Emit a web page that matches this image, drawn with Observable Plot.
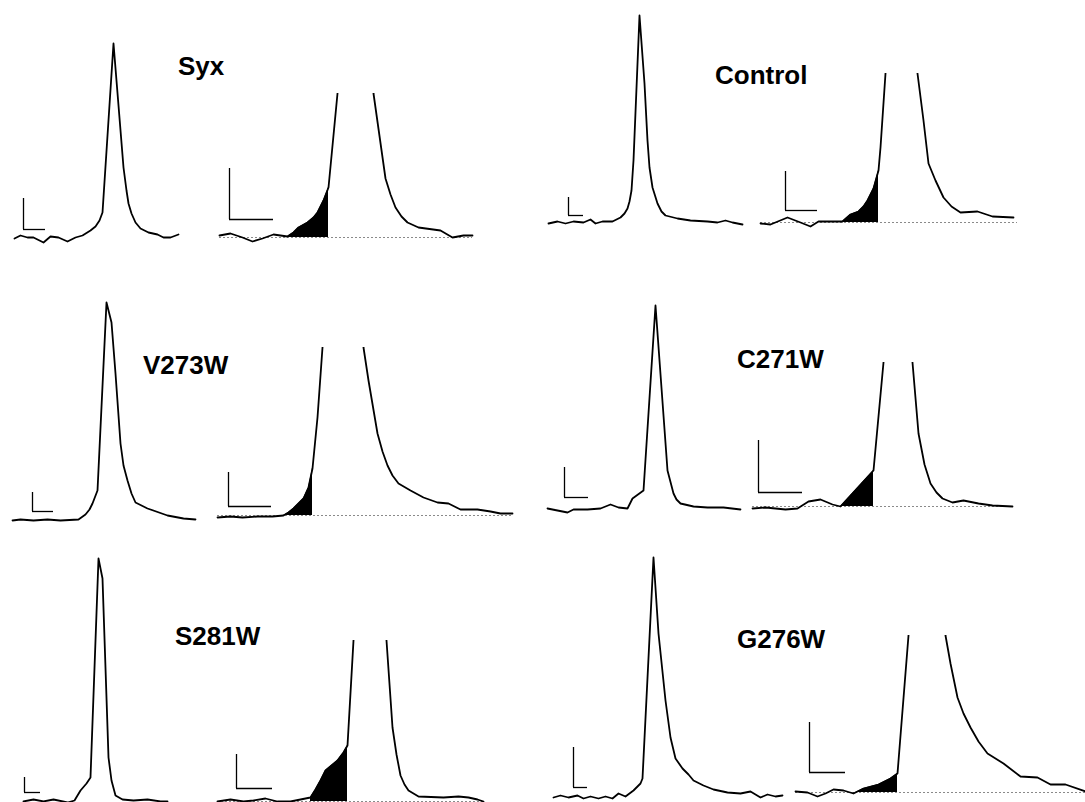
<!DOCTYPE html>
<html>
<head>
<meta charset="utf-8">
<script src="https://cdn.jsdelivr.net/npm/d3@7"></script>
<script src="https://cdn.jsdelivr.net/npm/@observablehq/plot@0.6"></script>
<style>
  html, body { margin: 0; padding: 0; background: #fff; overflow: hidden; }
  #figure { position: relative; width: 1085px; height: 802px; background: #fff; }
  #figure svg { position: absolute; background: transparent; }
  .title {
    position: absolute; font: bold 26px "Liberation Sans", Arial, sans-serif;
    line-height: 26px; color: #000; white-space: nowrap;
  }
</style>
</head>
<body>
<div id="figure"></div>
<script>
// Amperometric spikes, one panel per construct.
// Each trace is a list of [t, v] samples (display units); v = 0 is the baseline.
// "Full" traces show the whole spike; "Zoom" traces magnify the foot, clipped at the top.

const panelNames = ["Syx", "Control", "V273W", "C271W", "S281W", "G276W"];

const syxFull = [[0,0],[6,3],[13,1],[19,1],[29,-4],[36,2],[44,1],[53,-3],[61,1],[68,3],[76,8],[81,12],[85,18],[88,26],[99,195],[109,71],[112,48],[114,35],[117,25],[121,16],[126,10],[134,6],[143,4],[149,1],[156,1],[164,4]];
const syxZoom = [[0,2],[11,4],[23,0],[33,-4],[43,-1],[54,3],[68,1],[74,5],[79,10],[88,15],[94,20],[98,25],[104,37],[109,50],[118,144],[136,400],[154,144],[166,59],[171,43],[176,30],[182,21],[188,15],[199,10],[221,7],[233,0],[244,2],[253,2]];

const controlFull = [[0,-1],[9,1],[17,-1],[25,1],[35,0],[42,3],[47,-1],[54,1],[64,1],[72,5],[76,9],[79,14],[81,21],[83,32],[85,62],[91,207],[96,139],[99,82],[101,55],[104,35],[109,19],[113,11],[117,7],[129,4],[142,2],[159,1],[169,0],[177,2],[184,0],[194,-2]];
const controlZoom = [[0,-1],[10,-2],[27,5],[40,0],[50,-4],[58,1],[70,1],[82,1],[90,8],[98,11],[103,16],[107,22],[113,34],[118,52],[120,75],[125,149],[141,400],[157,149],[163,102],[168,59],[175,42],[183,25],[191,16],[200,10],[217,11],[232,6],[253,5]];

const v273wFull = [[0,0],[8,1],[21,0],[35,1],[48,0],[66,1],[73,6],[77,11],[80,17],[85,30],[94,218],[99,198],[103,147],[108,77],[111,55],[115,40],[119,27],[123,18],[135,12],[155,5],[171,2],[183,1]];
const v273wZoom = [[0,-2],[13,-1],[25,-2],[40,-1],[55,-1],[66,0],[71,3],[76,7],[86,17],[91,28],[95,47],[100,98],[105,168],[125,420],[146,168],[151,135],[160,82],[165,64],[170,50],[175,40],[181,32],[193,25],[206,18],[220,13],[231,12],[243,6],[260,6],[273,4],[283,2],[295,2]];

const c271wFull = [[0,0],[10,-2],[20,-4],[26,-1],[40,-1],[53,0],[63,4],[71,1],[80,0],[85,10],[96,18],[108,203],[120,38],[126,15],[129,9],[133,5],[146,2],[160,1],[176,1],[193,-1]];
const c271wZoom = [[0,-2],[13,-1],[33,-3],[45,-2],[56,5],[68,7],[80,2],[88,0],[121,36],[131,144],[145,400],[160,144],[166,73],[172,42],[178,23],[184,14],[190,8],[200,4],[211,6],[226,3],[240,1],[260,0]];

const s281wFull = [[0,-1],[10,1],[20,-1],[30,1],[44,-2],[51,0],[57,10],[63,17],[67,23],[75,242],[79,222],[85,43],[88,20],[92,5],[99,1],[110,0],[124,1],[137,-1],[144,-1]];
const s281wZoom = [[0,0],[13,2],[26,0],[36,1],[48,3],[60,0],[73,0],[83,2],[93,4],[98,12],[103,21],[108,31],[114,36],[120,41],[126,49],[130,56],[136,161],[152,400],[169,161],[175,74],[179,47],[183,26],[187,17],[191,11],[201,5],[226,4],[241,5],[251,4],[260,2],[266,0]];

const g276wFull = [[0,0],[7,2],[15,0],[24,2],[30,-1],[37,1],[45,-1],[52,1],[59,-1],[65,4],[72,1],[80,7],[87,14],[89,19],[100,240],[105,164],[112,97],[117,60],[122,39],[129,29],[135,23],[140,17],[150,12],[160,8],[174,5],[187,4],[197,6],[207,0],[214,3],[222,1],[229,2]];
const g276wZoom = [[0,1],[12,0],[22,-4],[30,-1],[38,3],[48,2],[58,-1],[68,4],[83,8],[95,14],[102,19],[113,157],[131,400],[150,157],[155,129],[162,95],[168,79],[175,65],[183,51],[192,39],[208,29],[225,16],[242,15],[255,8],[270,8],[290,1]];

// Foot interval (t start, t end) shaded under each magnified trace
const footSyx = [68, 109], footControl = [82, 118], footV273W = [66, 95],
      footC271W = [88, 121], footS281W = [93, 130], footG276W = [58, 102];

// Upper limit shown for each magnified trace (the spike is cut off there)
const zoomTop = { Syx: 144, Control: 149, V273W: 168, C271W: 144, S281W: 161, G276W: 157 };

// Scale bars: corner (t, v), horizontal length w, vertical length h
const barsFull = [
  {t: 9, v: 9, w: 22, h: 31}, {t: 20, v: 7, w: 15, h: 18}, {t: 20, v: 9, w: 21, h: 19},
  {t: 17, v: 11, w: 24, h: 30}, {t: 1, v: 8, w: 16, h: 15}, {t: 20, v: 10, w: 14, h: 40}
];
const barsZoom = [
  {t: 10, v: 18, w: 44, h: 51}, {t: 25, v: 12, w: 32, h: 39}, {t: 11, v: 9, w: 43, h: 34},
  {t: 6, v: 14, w: 44, h: 52}, {t: 19, v: 13, w: 36, h: 34}, {t: 14, v: 20, w: 36, h: 50}
];

// Baseline reference lengths for the magnified traces
const dottedLength = [253, 267, 295, 260, 266, 290];

// ---- layout (page pixels): trace origin (left, baseline) and title (left, baseline)
const layout = [
  {full: [14, 238],  zoom: [219, 237], title: [178, 75]},
  {full: [548, 222], zoom: [760, 222], title: [715, 84]},
  {full: [12, 520],  zoom: [217, 515], title: [143, 374]},
  {full: [547, 508], zoom: [752, 506], title: [737, 368]},
  {full: [23, 800],  zoom: [217, 801], title: [175, 645]},
  {full: [553, 797], zoom: [795, 792], title: [737, 648]}
];

const fullTraces = [syxFull, controlFull, v273wFull, c271wFull, s281wFull, g276wFull];
const zoomTraces = [syxZoom, controlZoom, v273wZoom, c271wZoom, s281wZoom, g276wZoom];
const feet = [footSyx, footControl, footV273W, footC271W, footS281W, footG276W];

const fig = document.getElementById("figure");
const PAD = 4;       // room around each trace for stroke caps
const V_BELOW = 8;   // space kept under the baseline

function tracePlot({data, bar, origin, top, foot, dotted}) {
  const tMax = d3.max(data, d => d[0]);
  const vMax = top ?? d3.max(data, d => d[1]) + PAD;
  const w = tMax + 2 * PAD;
  const h = vMax + V_BELOW;
  const svg = Plot.plot({
    width: w, height: h,
    margin: 0,
    x: {domain: [-PAD, tMax + PAD], axis: null},
    y: {domain: [-V_BELOW, vMax], axis: null},
    marks: [
      dotted ? Plot.ruleY([0], {x1: 0, x2: dotted, stroke: "#8a8a8a", strokeWidth: 1, strokeDasharray: "2,2"}) : null,
      foot ? Plot.areaY(data.filter(d => d[0] >= foot[0] && d[0] <= foot[1]),
        {x: d => d[0], y1: 0, y2: d => d[1], fill: "#000"}) : null,
      Plot.line(data, {x: d => d[0], y: d => d[1], stroke: "#000", strokeWidth: 1.8,
        strokeLinejoin: "round", clip: top != null}),
      Plot.ruleX([bar], {x: d => d.t, y1: d => d.v, y2: d => d.v + d.h, stroke: "#000", strokeWidth: 1.3}),
      Plot.ruleY([bar], {y: d => d.v, x1: d => d.t, x2: d => d.t + d.w, stroke: "#000", strokeWidth: 1.3})
    ]
  });
  svg.style.left = (origin[0] - PAD) + "px";
  svg.style.top = (origin[1] - vMax) + "px";
  fig.appendChild(svg);
}

panelNames.forEach((name, i) => {
  const L = layout[i];
  tracePlot({data: fullTraces[i], bar: barsFull[i], origin: L.full});
  tracePlot({data: zoomTraces[i], bar: barsZoom[i], origin: L.zoom,
    top: zoomTop[name], foot: feet[i], dotted: dottedLength[i]});
  const t = document.createElement("div");
  t.className = "title";
  t.textContent = name;
  t.style.left = L.title[0] + "px";
  t.style.top = (L.title[1] - 22) + "px";
  fig.appendChild(t);
});
</script>
</body>
</html>
